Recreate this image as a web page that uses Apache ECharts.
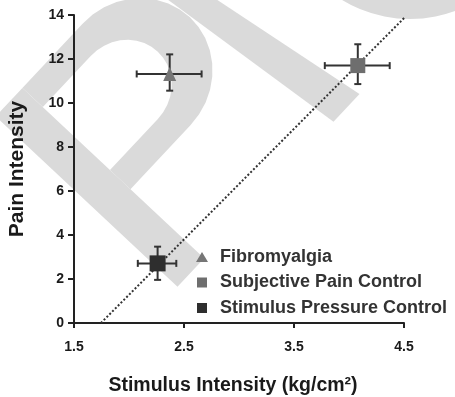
<!DOCTYPE html>
<html>
<head>
<meta charset="utf-8">
<script src="https://cdn.jsdelivr.net/npm/echarts@6/dist/echarts.min.js"></script>
<style>
  html, body { margin: 0; padding: 0; background: #fff; }
  #chart { width: 455px; height: 397px; }
</style>
</head>
<body>
<div id="chart"></div>
<script>
// values
const groups = ["Fibromyalgia", "Subjective Pain Control", "Stimulus Pressure Control"];
const stimMean = [2.37, 4.08, 2.26];
const stimLow = [2.07, 3.78, 2.08];
const stimHigh = [2.66, 4.37, 2.43];
const painMean = [11.32, 11.7, 2.71];
const painLow = [10.56, 10.86, 1.96];
const painHigh = [12.21, 12.67, 3.47];
const fitX = [1.745, 4.6];
const fitY = [0, 14.36];

const symbols = ["triangle", "rect", "rect"];
const legendIcons = ["path://M6,0L12,10H0Z", "path://M0,0H10V10H0Z", "path://M0,0H10V10H0Z"];
const colors = ["#767676", "#6e6e6e", "#2e2e2e"];
const sizes = [[13, 14], 15, 16];

const chart = echarts.init(document.getElementById("chart"));
const font = "Liberation Sans";

// light grey stamp behind the plot (letter space -> screen)
function wm(u, v) {
  return [110 + u * 0.684 - v * 0.73, 170 - u * 0.73 - v * 0.684];
}
const stem = [[-39, -129], [0, -129], [0, 120], [-39, 120]].map(p => wm(p[0], p[1]));
const bowlPts = [[0, 120], [88, 120]];
for (let a = 90; a >= -90; a -= 10) {
  const r = a * Math.PI / 180;
  bowlPts.push([88 + 78 * Math.cos(r), 46 + 74 * Math.sin(r)]);
}
bowlPts.push([0, -28], [0, 0], [70, 0]);
for (let a = -90; a <= 90; a += 10) {
  const r = a * Math.PI / 180;
  bowlPts.push([70 + 49 * Math.cos(r), 46 + 46 * Math.sin(r)]);
}
bowlPts.push([0, 92]);
const bowl = bowlPts.map(p => wm(p[0], p[1]));
const band = [[188, -130], [226, -130], [180, 140], [156, 140]].map(p => wm(p[0], p[1]));

function errorBars(params, api) {
  const l = api.coord([api.value(2), api.value(1)]);
  const r = api.coord([api.value(3), api.value(1)]);
  const b = api.coord([api.value(0), api.value(4)]);
  const t = api.coord([api.value(0), api.value(5)]);
  const cap = 3.5;
  const st = () => ({ stroke: "#333", lineWidth: 2 });
  return {
    type: "group",
    children: [
      { type: "line", shape: { x1: l[0], y1: l[1], x2: r[0], y2: r[1] }, style: st() },
      { type: "line", shape: { x1: l[0], y1: l[1] - cap, x2: l[0], y2: l[1] + cap }, style: st() },
      { type: "line", shape: { x1: r[0], y1: r[1] - cap, x2: r[0], y2: r[1] + cap }, style: st() },
      { type: "line", shape: { x1: b[0], y1: b[1], x2: t[0], y2: t[1] }, style: st() },
      { type: "line", shape: { x1: b[0] - cap, y1: b[1], x2: b[0] + cap, y2: b[1] }, style: st() },
      { type: "line", shape: { x1: t[0] - cap, y1: t[1], x2: t[0] + cap, y2: t[1] }, style: st() }
    ]
  };
}

chart.setOption({
  backgroundColor: "#fff",
  animation: false,
  graphic: {
    elements: [
      { type: "polygon", z: -100, silent: true, shape: { points: stem }, style: { fill: "#dadada" } },
      { type: "polygon", z: -100, silent: true, shape: { points: bowl }, style: { fill: "#dadada" } },
      { type: "polygon", z: -100, silent: true, shape: { points: band }, style: { fill: "#dadada" } },
      { type: "ring", z: -100, silent: true, shape: { cx: 410, cy: -112, r: 131, r0: 93 }, style: { fill: "#dadada" } }
    ]
  },
  grid: { left: 74, right: 51, top: 15, bottom: 74, outerBoundsMode: "none" },
  legend: {
    orient: "vertical",
    left: 191,
    top: 243,
    itemWidth: 26,
    itemHeight: 10,
    itemGap: 7.5,
    symbolKeepAspect: true,
    data: groups.map((g, i) => ({ name: g, icon: legendIcons[i] })),
    textStyle: { fontFamily: font, fontSize: 18, fontWeight: "bold", color: "#333", lineHeight: 18 }
  },
  xAxis: {
    type: "value",
    min: 1.5,
    max: 4.5,
    interval: 1,
    name: "Stimulus Intensity (kg/cm²)",
    nameLocation: "middle",
    nameGap: 53,
    nameTextStyle: { fontFamily: font, fontSize: 19.5, fontWeight: "bold", color: "#1a1a1a", padding: [0, 12, 0, 0] },
    splitLine: { show: false },
    axisLine: { lineStyle: { color: "#222", width: 2 } },
    axisTick: { length: 5, lineStyle: { color: "#222", width: 2 } },
    axisLabel: {
      margin: 17,
      fontFamily: font,
      fontSize: 14,
      fontWeight: "bold",
      color: "#1a1a1a",
      formatter: v => v.toFixed(1)
    }
  },
  yAxis: {
    type: "value",
    min: 0,
    max: 14,
    interval: 2,
    name: "Pain Intensity",
    nameLocation: "middle",
    nameGap: 46,
    nameTextStyle: { fontFamily: font, fontSize: 21, fontWeight: "bold", color: "#1a1a1a" },
    splitLine: { show: false },
    axisLine: { show: true, lineStyle: { color: "#222", width: 2 } },
    axisTick: { show: true, length: 6, lineStyle: { color: "#222", width: 2 } },
    axisLabel: { margin: 10, fontFamily: font, fontSize: 14, fontWeight: "bold", color: "#1a1a1a" }
  },
  series: [
    {
      type: "line",
      data: fitX.map((x, i) => [x, fitY[i]]),
      symbol: "none",
      clip: false,
      silent: true,
      z: 1,
      lineStyle: { type: "dotted", color: "#333", width: 2 }
    },
    {
      type: "custom",
      renderItem: errorBars,
      silent: true,
      z: 2,
      data: groups.map((g, i) => [stimMean[i], painMean[i], stimLow[i], stimHigh[i], painLow[i], painHigh[i]])
    },
    ...groups.map((g, i) => ({
      type: "scatter",
      name: g,
      symbol: symbols[i],
      symbolSize: sizes[i],
      z: 3,
      itemStyle: { color: colors[i], opacity: 1 },
      data: [[stimMean[i], painMean[i]]]
    }))
  ]
});
</script>
</body>
</html>
